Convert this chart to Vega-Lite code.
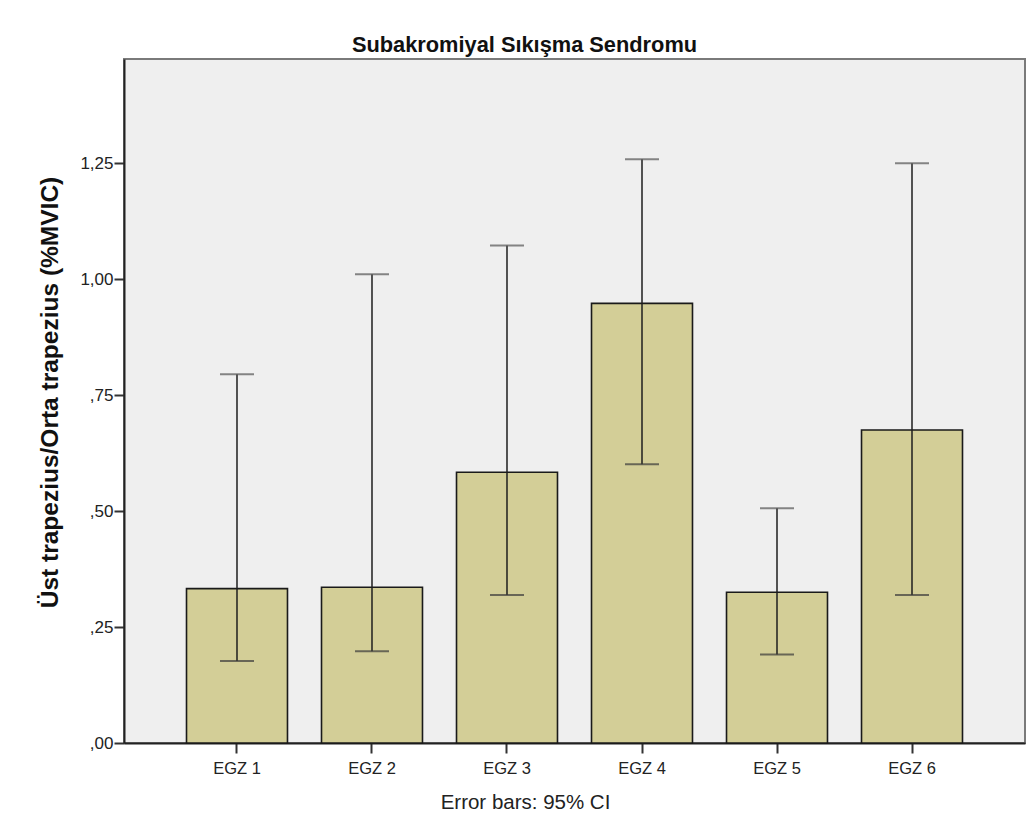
{
  "$schema": "https://vega.github.io/schema/vega-lite/v6.json",
  "autosize": {"type": "none"},
  "width": 901,
  "height": 684,
  "padding": {"left": 124, "top": 59, "right": 11, "bottom": 91},
  "background": "white",
  "title": {
    "text": "Subakromiyal Sıkışma Sendromu",
    "font": "Liberation Sans",
    "fontSize": 21.8,
    "fontWeight": "bold",
    "color": "#111",
    "anchor": "middle",
    "baseline": "alphabetic",
    "offset": 7,
    "dx": -50,
    "dy": 22
  },
  "data": {
    "values": [
      {"group": "EGZ 1", "mean": 0.333, "lower": 0.177, "upper": 0.795},
      {"group": "EGZ 2", "mean": 0.336, "lower": 0.198, "upper": 1.011},
      {"group": "EGZ 3", "mean": 0.584, "lower": 0.319, "upper": 1.073},
      {"group": "EGZ 4", "mean": 0.948, "lower": 0.601, "upper": 1.259},
      {"group": "EGZ 5", "mean": 0.325, "lower": 0.191, "upper": 0.506},
      {"group": "EGZ 6", "mean": 0.675, "lower": 0.319, "upper": 1.250}
    ]
  },
  "encoding": {
    "x": {
      "field": "group",
      "type": "nominal",
      "sort": null,
      "scale": {"paddingInner": 0.252, "paddingOuter": 0.463},
      "axis": {
        "title": "Error bars: 95% CI",
        "titleFont": "Liberation Sans",
        "titleFontSize": 20.5,
        "titleFontWeight": "normal",
        "titleColor": "#222",
        "titleX": 401,
        "titleY": 65,
        "titleAlign": "center",
        "titleBaseline": "alphabetic",
        "labelAngle": 0,
        "labelFont": "Liberation Sans",
        "labelFontSize": 16.5,
        "labelColor": "#222",
        "labelBaseline": "alphabetic",
        "labelPadding": 20,
        "tickSize": 10,
        "tickWidth": 2,
        "tickColor": "#333",
        "domainColor": "#222",
        "domainWidth": 2
      }
    }
  },
  "layer": [
    {
      "mark": {"type": "bar", "fill": "#d3ce97", "stroke": "#1a1a1a", "strokeWidth": 1.6},
      "encoding": {
        "y": {
          "field": "mean",
          "type": "quantitative",
          "scale": {"domain": [0, 1.475], "nice": false},
          "axis": {
            "title": "Üst trapezius/Orta trapezius (%MVIC)",
            "titleFont": "Liberation Sans",
            "titleFontSize": 24.5,
            "titleFontWeight": "bold",
            "titleColor": "#111",
            "titleAngle": -90,
            "titleX": -67,
            "titleY": 333,
            "titleAlign": "center",
            "titleBaseline": "alphabetic",
            "values": [0, 0.25, 0.5, 0.75, 1, 1.25],
            "labelExpr": "datum.value < 1 ? replace(format(datum.value, '.2f'), '0.', ',') : replace(format(datum.value, '.2f'), '.', ',')",
            "labelFont": "Liberation Sans",
            "labelFontSize": 17,
            "labelColor": "#222",
            "labelPadding": 1,
            "tickSize": 10,
            "tickWidth": 2,
            "tickColor": "#333",
            "domainColor": "#222",
            "domainWidth": 2,
            "grid": false
          }
        }
      }
    },
    {
      "mark": {"type": "rule", "color": "#1e1e1e", "strokeWidth": 1.5},
      "encoding": {
        "y": {"field": "lower", "type": "quantitative"},
        "y2": {"field": "upper"}
      }
    },
    {
      "mark": {"type": "tick", "color": "#3a3a3a", "size": 34, "thickness": 2},
      "encoding": {"y": {"field": "lower", "type": "quantitative"}}
    },
    {
      "mark": {"type": "tick", "color": "#555", "size": 34, "thickness": 2},
      "encoding": {"y": {"field": "upper", "type": "quantitative"}}
    }
  ],
  "config": {
    "view": {"fill": "#efefef", "stroke": "#7a7a7a", "strokeWidth": 2}
  }
}
